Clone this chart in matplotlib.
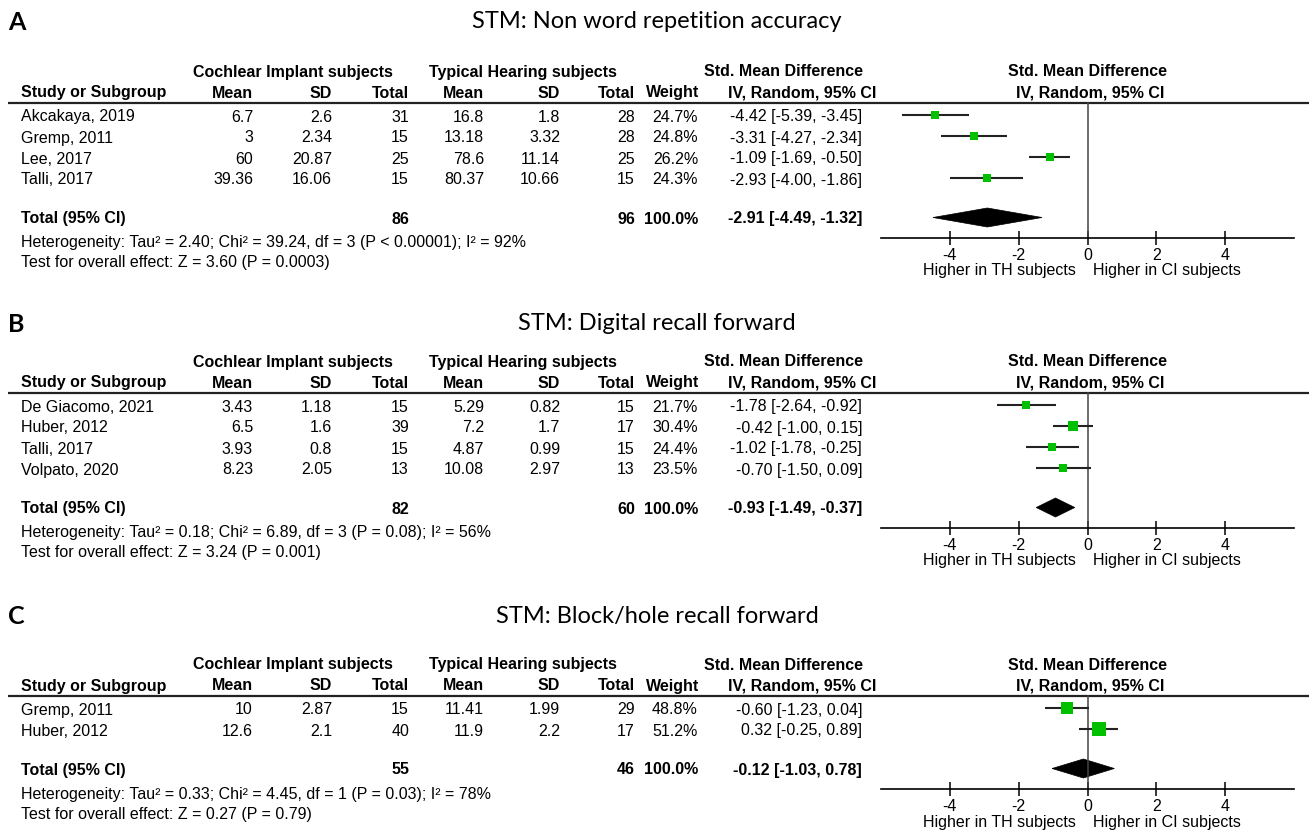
import matplotlib
matplotlib.use("Agg")
import matplotlib.pyplot as plt
from matplotlib.patches import Polygon

plt.rcParams["axes.unicode_minus"] = False

# ---------------- data ----------------
titles = ["STM: Non word repetition accuracy",
          "STM: Digital recall forward",
          "STM: Block/hole recall forward"]
letters = ["A", "B", "C"]

A_studies = ["Akcakaya, 2019", "Gremp, 2011", "Lee, 2017", "Talli, 2017"]
A_ci_mean = [6.7, 3, 60, 39.36]
A_ci_sd = [2.6, 2.34, 20.87, 16.06]
A_ci_n = [31, 15, 25, 15]
A_th_mean = [16.8, 13.18, 78.6, 80.37]
A_th_sd = [1.8, 3.32, 11.14, 10.66]
A_th_n = [28, 28, 25, 15]
A_weight = [24.7, 24.8, 26.2, 24.3]
A_smd = [-4.42, -3.31, -1.09, -2.93]
A_lo = [-5.39, -4.27, -1.69, -4.00]
A_hi = [-3.45, -2.34, -0.50, -1.86]
A_total = [86, 96, -2.91, -4.49, -1.32]
A_het = "Heterogeneity: Tau² = 2.40; Chi² = 39.24, df = 3 (P < 0.00001); I² = 92%"
A_test = "Test for overall effect: Z = 3.60 (P = 0.0003)"

B_studies = ["De Giacomo, 2021", "Huber, 2012", "Talli, 2017", "Volpato, 2020"]
B_ci_mean = [3.43, 6.5, 3.93, 8.23]
B_ci_sd = [1.18, 1.6, 0.8, 2.05]
B_ci_n = [15, 39, 15, 13]
B_th_mean = [5.29, 7.2, 4.87, 10.08]
B_th_sd = [0.82, 1.7, 0.99, 2.97]
B_th_n = [15, 17, 15, 13]
B_weight = [21.7, 30.4, 24.4, 23.5]
B_smd = [-1.78, -0.42, -1.02, -0.70]
B_lo = [-2.64, -1.00, -1.78, -1.50]
B_hi = [-0.92, 0.15, -0.25, 0.09]
B_total = [82, 60, -0.93, -1.49, -0.37]
B_het = "Heterogeneity: Tau² = 0.18; Chi² = 6.89, df = 3 (P = 0.08); I² = 56%"
B_test = "Test for overall effect: Z = 3.24 (P = 0.001)"

C_studies = ["Gremp, 2011", "Huber, 2012"]
C_ci_mean = [10, 12.6]
C_ci_sd = [2.87, 2.1]
C_ci_n = [15, 40]
C_th_mean = [11.41, 11.9]
C_th_sd = [1.99, 2.2]
C_th_n = [29, 17]
C_weight = [48.8, 51.2]
C_smd = [-0.60, 0.32]
C_lo = [-1.23, -0.25]
C_hi = [0.04, 0.89]
C_total = [55, 46, -0.12, -1.03, 0.78]
C_het = "Heterogeneity: Tau² = 0.33; Chi² = 4.45, df = 1 (P = 0.03); I² = 78%"
C_test = "Test for overall effect: Z = 0.27 (P = 0.79)"

x_ticks = [-4, -2, 0, 2, 4]
x_limits = (-6, 6)
favours = ["Higher in TH subjects", "Higher in CI subjects"]

panels = [
    dict(studies=A_studies, cols=[A_ci_mean, A_ci_sd, A_ci_n, A_th_mean, A_th_sd, A_th_n],
         weight=A_weight, smd=A_smd, lo=A_lo, hi=A_hi, total=A_total, het=A_het, test=A_test),
    dict(studies=B_studies, cols=[B_ci_mean, B_ci_sd, B_ci_n, B_th_mean, B_th_sd, B_th_n],
         weight=B_weight, smd=B_smd, lo=B_lo, hi=B_hi, total=B_total, het=B_het, test=B_test),
    dict(studies=C_studies, cols=[C_ci_mean, C_ci_sd, C_ci_n, C_th_mean, C_th_sd, C_th_n],
         weight=C_weight, smd=C_smd, lo=C_lo, hi=C_hi, total=C_total, het=C_het, test=C_test),
]

# ---------------- layout (pixels) ----------------
W, H, DPI = 1309, 831, 100
title_y = [22, 324, 617]
line_y = [102, 392, 695]
axis_y = [238, 528, 789]

FT = "Liberation Sans"
FS = 11.5
TITLE_FONT = "Lato"

col_right = [253, 332, 409, 484, 560, 635]
weight_right = 698
smd_right = 862
ax_left_px, ax_right_px = 881, 1294

fig = plt.figure(figsize=(W / DPI, H / DPI), dpi=DPI)
ov = fig.add_axes([0, 0, 1, 1])
ov.set_xlim(0, W)
ov.set_ylim(H, 0)
ov.axis("off")


def txt(x, y, s, ha="left", bold=False, size=FS, family=FT, color="black"):
    ov.text(x, y, s, ha=ha, va="center", fontsize=size, family=family,
            fontweight="bold" if bold else "normal", color=color)


for p, P in enumerate(panels):
    ly = line_y[p]
    ay = axis_y[p]
    # panel letter + title
    txt(8, title_y[p], letters[p], bold=True, size=18, family=TITLE_FONT)
    txt(657, title_y[p], titles[p], ha="center", size=17, family=TITLE_FONT)

    h1 = ly - 30
    h2 = ly - 9
    txt(293, h1, "Cochlear Implant subjects", ha="center", bold=True)
    txt(523, h1, "Typical Hearing subjects", ha="center", bold=True)
    txt(784, h1, "Std. Mean Difference", ha="center", bold=True)
    txt(1088, h1, "Std. Mean Difference", ha="center", bold=True)
    txt(21, h2, "Study or Subgroup", bold=True)
    for xr, lab in zip(col_right, ["Mean", "SD", "Total", "Mean", "SD", "Total"]):
        txt(xr, h2, lab, ha="right", bold=True)
    txt(weight_right + 1, h2, "Weight", ha="right", bold=True)
    txt(802, h2, "IV, Random, 95% CI", ha="center", bold=True)
    txt(1090, h2, "IV, Random, 95% CI", ha="center", bold=True)
    ov.plot([8, W], [ly + 1, ly + 1], color="#222222", lw=1.6, solid_capstyle="butt")

    n = len(P["studies"])
    rows_y = [ly + 15 + 21 * i for i in range(n)]
    for i in range(n):
        y = rows_y[i]
        txt(21, y, P["studies"][i])
        for c, xr in enumerate(col_right):
            txt(xr, y, f"{P['cols'][c][i]:g}", ha="right")
        txt(weight_right, y, f"{P['weight'][i]:.1f}%", ha="right")
        txt(smd_right, y, f"{P['smd'][i]:.2f} [{P['lo'][i]:.2f}, {P['hi'][i]:.2f}]", ha="right")

    tot_y = ay - 19
    t = P["total"]
    txt(21, tot_y, "Total (95% CI)", bold=True)
    txt(col_right[2], tot_y, f"{t[0]}", ha="right", bold=True)
    txt(col_right[5], tot_y, f"{t[1]}", ha="right", bold=True)
    txt(weight_right, tot_y, "100.0%", ha="right", bold=True)
    txt(smd_right, tot_y, f"{t[2]:.2f} [{t[3]:.2f}, {t[4]:.2f}]", ha="right", bold=True)
    txt(21, tot_y + 24, P["het"])
    txt(21, tot_y + 44, P["test"])

    # forest axes
    fx = fig.add_axes([ax_left_px / W, 1 - ay / H,
                       (ax_right_px - ax_left_px) / W, (ay - ly - 1) / H])
    fx.set_xlim(*x_limits)
    fx.set_ylim(ay, ly + 1)
    fx.patch.set_alpha(0)
    for s in ["top", "left", "right"]:
        fx.spines[s].set_visible(False)
    fx.spines["bottom"].set_linewidth(1.2)
    fx.set_yticks([])
    fx.set_xticks(x_ticks)
    fx.set_xticklabels([f"{v}" for v in x_ticks], family=FT, fontsize=FS)
    fx.tick_params(axis="x", direction="inout", length=10, width=1.1, pad=2)
    fx.plot([0, 0], [ly + 1, ay], color="#444444", lw=1.1, clip_on=False)

    for i in range(n):
        y = rows_y[i] - 2
        fx.plot([P["lo"][i], P["hi"][i]], [y, y], color="#222222", lw=1.5,
                solid_capstyle="butt", clip_on=False)
        side = 3 + 0.2 * P["weight"][i]
        fx.plot(P["smd"][i], y, marker="s", ms=side * 0.72, color="#00c000",
                mec="#00c000", mew=0, ls="none", clip_on=False, zorder=3)

    dy = tot_y - 1.5
    fx.add_patch(Polygon([(t[3], dy), (t[2], dy - 9.5), (t[4], dy), (t[2], dy + 9.5)],
                         closed=True, facecolor="black", edgecolor="black", lw=0.5,
                         clip_on=False))

    txt(999, ay + 33, favours[0], ha="center")
    txt(1167, ay + 33, favours[1], ha="center")

fig.savefig("out.png", dpi=DPI)
